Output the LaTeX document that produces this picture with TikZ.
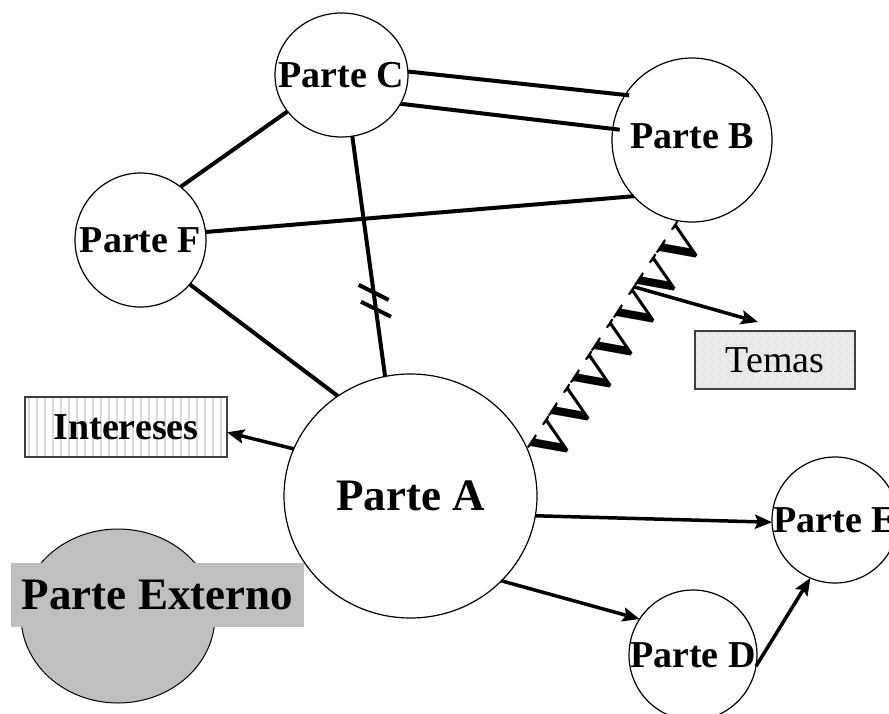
\documentclass[tikz,border=0pt]{standalone}
\usepackage{fontspec}
\setmainfont{Liberation Serif}
\usetikzlibrary{arrows.meta,shapes.geometric,decorations.text,calc}

\newcommand\zigfont{\bfseries\fontsize{54}{54}\selectfont}

\begin{document}
\begin{tikzpicture}[x=1pt,y=-1pt,
  party/.style={ellipse, draw, line width=1.2pt, fill=white, inner sep=0pt,
    outer sep=0pt},
  ptext/.style={inner sep=0pt, font=\bfseries\fontsize{38}{40}\selectfont},
  bigtext/.style={inner sep=0pt, font=\bfseries\fontsize{45}{47}\selectfont},
  link/.style={line width=4pt},
  arr/.style={line width=3.5pt, -{Stealth[length=17pt,width=14pt,inset=3pt]}},
  tag/.style={draw=black!75, line width=1.5pt, inner sep=0pt, outer sep=0pt},
  stripe/.style={gray!30, line width=1.2pt}]

\useasboundingbox (0,0) rectangle (889,713);
\clip (0,0) rectangle (889,713);
\fill[white] (0,0) rectangle (889,713);

% external party: grey disc with its banner
\node[ellipse, draw, line width=1pt, fill=gray!50, minimum width=194pt,
  minimum height=174pt, inner sep=0pt] (X) at (118,616) {};
\node[bigtext, fill=gray!50, minimum width=293pt, minimum height=64pt]
  (Xl) at (157.5,595) {Parte Externo};

% parties (outline) and their names
\node[party, minimum width=253pt, minimum height=244pt] (A) at (410.5,496) {};
\node[party, minimum width=160pt, minimum height=164pt] (B) at (692,140) {};
\node[party, minimum width=133pt, minimum height=124pt] (C) at (341.5,75) {};
\node[party, minimum width=131pt, minimum height=134pt] (F) at (140.5,240) {};
\node[party, minimum width=126pt, minimum height=126pt] (E) at (835,520) {};
\node[party, minimum width=128pt, minimum height=130pt] (D) at (693,655) {};
\node[bigtext] (At) at (A) {Parte A};
\node[ptext] (Bt) at ([yshift=4pt]B.center) {Parte B};
\node[ptext] (Ct) at (C) {Parte C};
\node[ptext] (Ft) at (F) {Parte F};
\node[ptext] (Et) at (E) {Parte E};
\node[ptext] (Dt) at (D) {Parte D};

% interests box with vertical stripes
\foreach \x in {29,37,...,223} \draw[stripe] (\x,398) -- (\x,456);
\node[tag, minimum width=202pt, minimum height=60pt,
  font=\bfseries\fontsize{38}{40}\selectfont] (I) at (126,427) {Intereses};

% topics box, light grey with fine white dots
\node[tag, fill=gray!18, minimum width=160pt, minimum height=58pt,
  font=\fontsize{38}{40}\selectfont,
  path picture={\foreach \i in {0,...,19}{\foreach \j in {0,...,7}{
    \fill[white] ([xshift={4+\i*8},yshift={-4-\j*8}]path picture bounding box.north west) circle (0.9pt);}}}]
  (T) at (775,360) {Temas};

% relations between parties
\draw[link, shorten >=-4pt] (C.3) -- (B.146);
\draw[link, shorten >=-7pt] (C.-26) -- (B.172);
\draw[link] (C.214) -- (F.53);
\draw[link] (F.7) -- (B.224);
\draw[link] (F.-42) -- (A.126);
\draw[link] (C.-80) -- (A.102) coordinate[pos=0.65] (s1) coordinate[pos=0.72] (s2);
\draw[link] (s1) ++(-15,-7.5) -- ++(30,15);
\draw[link] (s2) ++(-15,-7.5) -- ++(30,15);

% conflict between A and B drawn as a row of V teeth
\path[decorate, decoration={text along path, text={|\zigfont|VVVVVVV},
  text align=center, raise=-35pt}]
  ($(A.22)!-4pt!(B.260)$) -- ($(B.260)!-4pt!(A.22)$);
\path (A.22) -- (B.260) coordinate[pos=0.71] (zz);
\coordinate (tt) at (758,322);

% arrows
\draw[arr] (zz) -- (tt);
\draw[arr] (A.158) -- (I.-3);
\draw[arr] (A.-9) -- (E.182);
\draw[arr] (A.-43) -- (D.146);
\draw[arr] (D.-10) -- (E.247);
\end{tikzpicture}
\end{document}
